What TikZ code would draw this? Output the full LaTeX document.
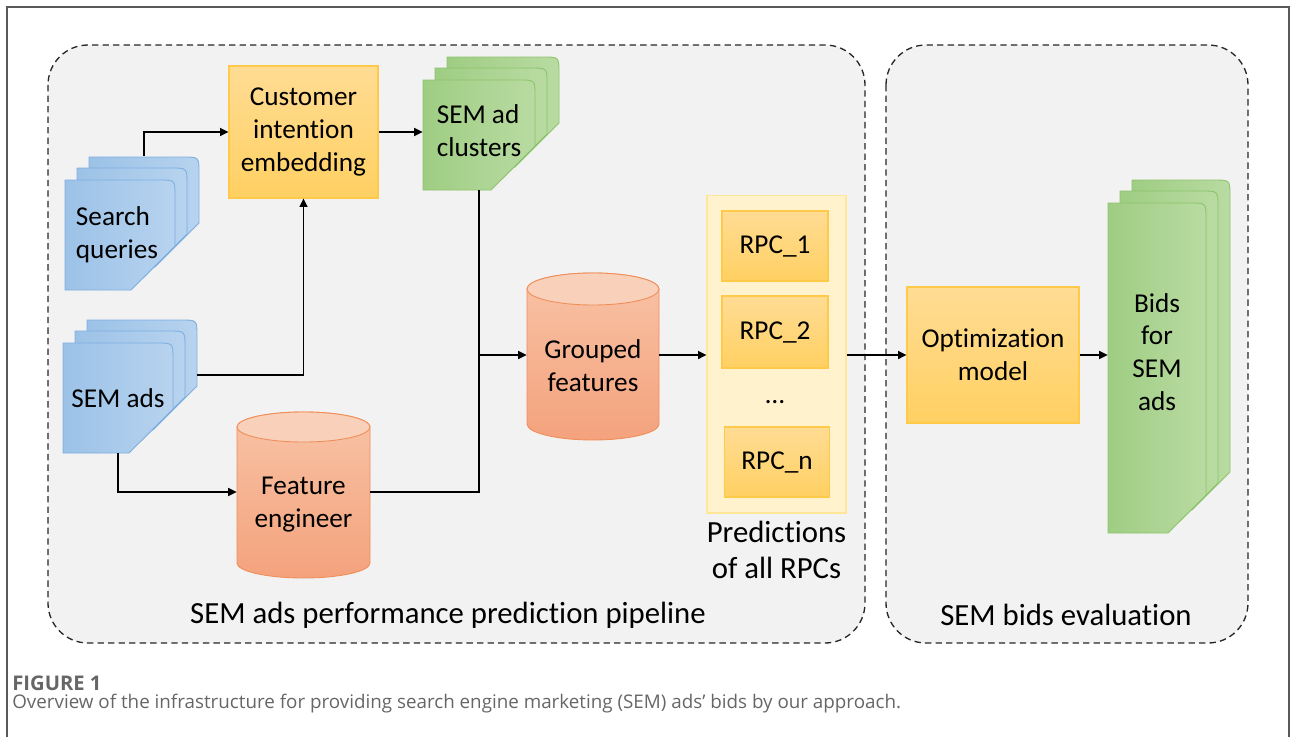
\documentclass[tikz,border=0pt]{standalone}
\usepackage{fontspec}
\setmainfont{Carlito}[Ligatures=NoCommon]
\newfontfamily\capfont{Open Sans}
\usepackage{xcolor}
\usepackage{tikz}
\usetikzlibrary{arrows.meta,positioning,calc}

\definecolor{panelgray}{HTML}{F2F2F2}
\definecolor{bluefill}{HTML}{9CC2E7}
\definecolor{bluelite}{HTML}{B7D3EF}
\definecolor{blueline}{HTML}{7DAEE0}
\definecolor{greenfill}{HTML}{9FCD83}
\definecolor{greenlite}{HTML}{B9DBA2}
\definecolor{greenline}{HTML}{8CC46C}
\definecolor{drumtop}{HTML}{F9D0B9}
\definecolor{drumhi}{HTML}{F8C3A5}
\definecolor{drumlo}{HTML}{F4A27D}
\definecolor{drumline}{HTML}{F08E5A}
\definecolor{goldtop}{HTML}{FFDC94}
\definecolor{goldbot}{HTML}{FFD062}
\definecolor{goldline}{HTML}{FFC94A}
\definecolor{creamfill}{HTML}{FFF2CC}
\definecolor{creamline}{HTML}{FFE699}
\definecolor{capgray}{HTML}{666666}

% one sheet: style, left, top, width, height, snip
\newcommand{\docsheet}[6]{%
  \path[#1] ({#2},{#3}) -- ({#2+#4-16},{#3}) .. controls ({#2+#4},{#3}) .. ({#2+#4},{#3+16})
    -- ({#2+#4},{#3+#5-#6}) -- ({#2+#4-#6},{#3+#5}) -- ({#2},{#3+#5}) -- cycle;}
% stack of three sheets, front sheet given
\newcommand{\docstack}[6]{%
  \docsheet{#1}{#2+24}{#3-23}{#4}{#5}{#6}
  \docsheet{#1}{#2+12}{#3-12}{#4}{#5}{#6}
  \docsheet{#1}{#2}{#3}{#4}{#5}{#6}}
% database drum: left, top, width, height, half height of the end
\newcommand{\drum}[5]{%
  \path[drumbody] ({#1},{#2+#5}) -- ({#1},{#2+#4-#5})
    arc[start angle=180, end angle=0, x radius={#3/2}, y radius={#5}]
    -- ({#1+#3},{#2+#5})
    arc[start angle=0, end angle=-180, x radius={#3/2}, y radius={#5}] -- cycle;
  \path[drumend] ({#1+#3/2},{#2+#5}) ellipse[x radius={#3/2}, y radius={#5}];}

\begin{document}
\begin{tikzpicture}[x=0.02cm, y=-0.02cm,
    panel/.style={draw=black!85, line width=0.75pt, dash pattern=on 3.6pt off 2.4pt,
      fill=panelgray, rounded corners=0.8cm},
    lbl/.style={align=center, inner sep=0pt, font=\fontsize{15.5}{18.7}\selectfont},
    biglbl/.style={align=center, inner sep=0pt, font=\fontsize{17.5}{20.6}\selectfont},
    doc/.style={align=left, inner sep=0pt, font=\fontsize{15.5}{18.7}\selectfont},
    box/.style={draw=goldline, line width=0.6pt, top color=goldtop, bottom color=goldbot,
      align=center, inner sep=0pt, font=\fontsize{15.5}{18.7}\selectfont},
    bluesheet/.style={draw=blueline, line width=0.5pt, left color=bluefill, right color=bluelite},
    greensheet/.style={draw=greenline, line width=0.5pt, left color=greenfill, right color=greenlite},
    drumbody/.style={draw=drumline, line width=0.5pt, top color=drumhi, bottom color=drumlo},
    drumend/.style={draw=drumline, line width=0.5pt, fill=drumtop},
    arr/.style={-{Triangle[length=4.8pt,width=4.6pt]}, line width=0.75pt},
    link/.style={line width=0.75pt}
  ]
    \useasboundingbox (0,0) rectangle (1292,737);
    % frame of the figure
    \draw[black!65, line width=0.6pt] (7,737) -- (7,7) -- (1289,7) -- (1289,737);

    % Two stages
    \draw[panel] (48,45) rectangle (865,643);
    \draw[panel] (886,45) rectangle (1248,643);
    \node[biglbl] (pipe) at (448,615) {SEM ads performance prediction pipeline};
    \node[biglbl] (eval) at (1066,615) {SEM bids evaluation};

    % Inputs and clusters
    \docstack{bluesheet}{65}{180}{110}{110}{44}
    \docstack{bluesheet}{63}{343}{110}{110}{44}
    \docstack{greensheet}{423}{80}{112}{110}{44}
    \docstack{greensheet}{1108}{203}{98}{330}{38}
    \node[doc, minimum width=2.2cm, minimum height=2.2cm] (sq) at (117,235) {Search\\queries};
    \node[doc, minimum width=2.2cm, minimum height=2.2cm] (sa) at (118,398) {SEM ads};
    \node[doc, minimum width=2.24cm, minimum height=2.36cm] (sc) at (479,131) {SEM ad\\clusters};
    \node[lbl, minimum width=1.96cm] (bids) at (1157,352) {Bids\\for\\SEM\\ads};

    % Feature stores
    \drum{527}{273}{132}{167}{16}
    \drum{237}{412}{133}{166}{15}
    \node[lbl, minimum width=2.64cm] (gf) at (593,366) {Grouped\\features};
    \node[lbl, minimum width=2.66cm] (fe) at (303.5,505) {Feature\\engineer};

    % Models
    \node[box, minimum width=2.98cm, minimum height=2.64cm] (cie) at (303.5,132) {Customer\\intention\\embedding};
    \node[box, minimum width=3.44cm, minimum height=2.72cm] (opt) at (993,355) {Optimization\\model};

    % RPC predictions
    \node[draw=creamline, line width=0.6pt, fill=creamfill, minimum width=2.78cm, minimum height=6.36cm] (rpc) at (776.5,354) {};
    \node[box, minimum width=2.12cm, minimum height=1.4cm] (rpc1) at (775,246) {RPC\_1};
    \node[box, minimum width=2.12cm, minimum height=1.44cm] (rpc2) at (775,332) {RPC\_2};
    \node[lbl] (dots) at (775,402) {\dots};
    \node[box, minimum width=2.1cm, minimum height=1.4cm] (rpcn) at (777,462) {RPC\_n};
    \node[biglbl, below=4pt of rpc] (pred) {Predictions\\of all RPCs};

    % Connections
    \draw[arr] ($(sq.north)+(27,-24)$) |- (cie.west);
    \draw[arr] (cie.east) -- (cie.east -| sc.west);
    \draw[arr] ($(sa.east)+(24,-23)$) -| (cie.south);
    \draw[arr] (sa.south) |- ([yshift=0.26cm]fe.west);
    \draw[link] ([yshift=0.26cm]fe.east) -| (sc.south);
    \draw[arr] (sc.south |- opt.west) -- (gf.west |- opt.west);
    \draw[arr] (gf.east |- opt.west) -- (rpc.west |- opt.west);
    \draw[arr] (rpc.east |- opt.west) -- (opt.west);
    \draw[arr] (opt.east) -- (opt.east -| bids.west);

    % Caption
    \node[anchor=west, inner sep=0pt, text=capgray, font=\capfont\bfseries\fontsize{11.5}{13}\selectfont] (fig) at (12,683) {FIGURE 1};
    \node[anchor=west, inner sep=0pt, text=capgray, font=\capfont\fontsize{10.7}{13}\selectfont] (cap) at (12,704)
      {Overview of the infrastructure for providing search engine marketing (SEM) ads’ bids by our approach.};
\end{tikzpicture}
\end{document}
